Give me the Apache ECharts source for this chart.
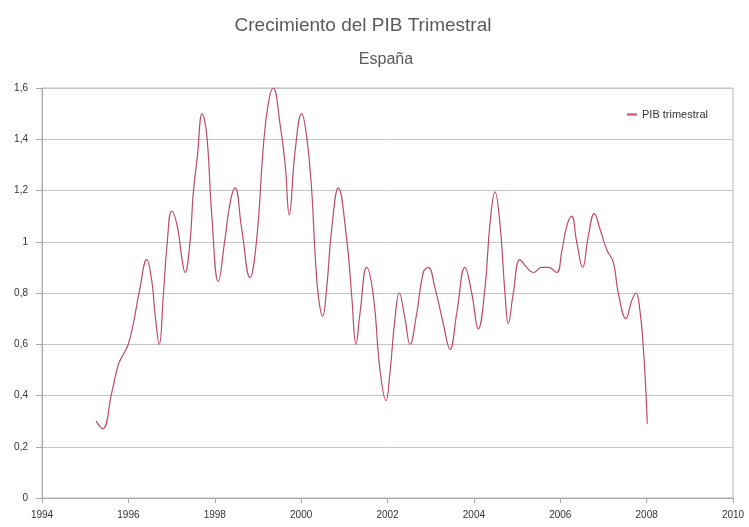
<!DOCTYPE html>
<html>
<head>
<meta charset="utf-8">
<script src="https://cdn.jsdelivr.net/npm/echarts@6/dist/echarts.min.js"></script>
<style>
html,body{margin:0;padding:0;background:#fff;}
#chart{width:749px;height:527px;}
</style>
</head>
<body>
<div id="chart"></div>
<script>
const titleText = 'Crecimiento del PIB Trimestral';
const subtitleText = 'España';
const seriesName = 'PIB trimestral';
const xTickLabels = ['1994','1996','1998','2000','2002','2004','2006','2008','2010'];
const yTickLabels = ['0','0,2','0,4','0,6','0,8','1','1,2','1,4','1,6'];

const years = [
  1995.250,1995.405,1995.614,1995.767,1995.882,1995.998,1996.114,1996.269,1996.424,1996.540,
  1996.616,1996.716,1996.809,1996.901,1997.003,1997.133,1997.235,1997.311,1997.427,1997.503,
  1997.596,1997.709,1997.813,1997.929,1998.082,1998.237,1998.353,1998.469,1998.624,1998.816,
  1998.971,1999.124,1999.240,1999.355,1999.511,1999.626,1999.726,1999.858,2000.013,2000.129,
  2000.245,2000.321,2000.398,2000.499,2000.592,2000.708,2000.860,2001.055,2001.171,2001.270,
  2001.363,2001.518,2001.671,2001.826,2001.965,2002.057,2002.173,2002.273,2002.405,2002.521,
  2002.676,2002.828,2002.944,2003.099,2003.292,2003.447,2003.602,2003.794,2003.949,2004.102,
  2004.257,2004.373,2004.489,2004.604,2004.720,2004.797,2004.913,2005.067,2005.222,2005.375,
  2005.570,2005.723,2005.917,2006.033,2006.149,2006.264,2006.380,2006.519,2006.648,2006.788,
  2006.920,2007.075,2007.228,2007.344,2007.522,2007.654,2007.753,2007.846,2007.922,2007.985,
  2008.015
];
const pib = [
  0.30,0.27,0.41,0.52,0.56,0.60,0.68,0.82,0.93,0.85,
  0.72,0.60,0.79,1.00,1.12,1.06,0.94,0.88,1.00,1.19,
  1.33,1.50,1.42,1.11,0.845,1.01,1.15,1.21,1.05,0.86,
  1.01,1.37,1.54,1.60,1.46,1.31,1.105,1.35,1.50,1.41,
  1.20,0.96,0.79,0.71,0.82,1.05,1.21,1.01,0.79,0.60,
  0.72,0.90,0.79,0.50,0.38,0.49,0.70,0.80,0.70,0.60,
  0.72,0.88,0.90,0.82,0.68,0.58,0.72,0.90,0.80,0.66,
  0.82,1.07,1.195,1.07,0.80,0.68,0.80,0.93,0.90,0.88,
  0.90,0.90,0.88,0.96,1.06,1.10,1.00,0.90,1.02,1.11,
  1.05,0.97,0.92,0.80,0.70,0.77,0.80,0.73,0.59,0.41,
  0.29
];

const data = years.map((y, i) => [y, pib[i]]);
const font = '"Liberation Sans", Arial, sans-serif';

const chart = echarts.init(document.getElementById('chart'), null, {renderer: 'canvas'});
chart.setOption({
  backgroundColor: '#ffffff',
  animation: false,
  title: [
    {text: titleText, left: 358, top: 11, textAlign: 'center',
     textStyle: {fontFamily: font, fontSize: 19, fontWeight: 'normal', color: '#5a5a5a'}},
    {text: subtitleText, left: 381, top: 47, textAlign: 'center',
     textStyle: {fontFamily: font, fontSize: 16, fontWeight: 'normal', color: '#5a5a5a'}}
  ],
  legend: {
    data: [seriesName], right: 36, top: 104, itemWidth: 10, itemHeight: 2, itemGap: 4,
    icon: 'rect',
    textStyle: {fontFamily: font, fontSize: 11, color: '#333'}
  },
  grid: {left: 42, right: 16, top: 88, bottom: 29, show: true, borderColor: '#b8b8b8', borderWidth: 1},
  xAxis: {
    type: 'value', min: 1994, max: 2010, interval: 2,
    axisLine: {lineStyle: {color: '#a8a8a8'}},
    axisTick: {show: true, length: 5, lineStyle: {color: '#a8a8a8'}},
    splitLine: {show: false},
    axisLabel: {margin: 12, fontFamily: font, fontSize: 10, color: '#333',
      formatter: v => xTickLabels[Math.round((v - 1994) / 2)]}
  },
  yAxis: {
    type: 'value', min: 0, max: 1.6, interval: 0.2,
    axisLine: {show: true, lineStyle: {color: '#a8a8a8'}},
    axisTick: {show: true, length: 6, lineStyle: {color: '#a8a8a8'}},
    splitLine: {show: true, lineStyle: {color: '#c4c4c4', width: 1}},
    axisLabel: {margin: 14, fontFamily: font, fontSize: 10, color: '#333',
      formatter: v => yTickLabels[Math.round(v / 0.2)]}
  },
  series: [{
    name: seriesName, type: 'line', data: data, smooth: 0.45,
    showSymbol: false, symbol: 'none',
    lineStyle: {color: '#bd4a68', width: 1.2},
    itemStyle: {color: '#bd4a68'}
  }]
});
</script>
</body>
</html>
